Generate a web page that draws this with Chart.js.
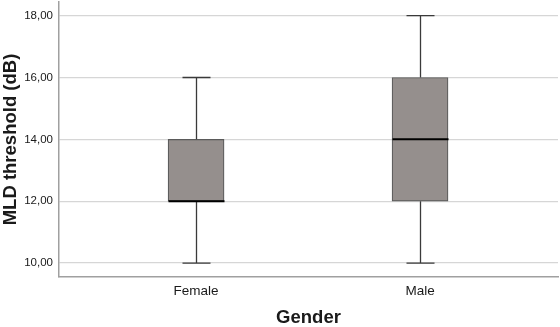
<!DOCTYPE html>
<html>
<head>
<meta charset="utf-8">
<script src="https://cdn.jsdelivr.net/npm/chart.js@4.4.1/dist/chart.umd.min.js"></script>
<style>
  html, body { margin: 0; padding: 0; background: #fff; }
  #wrap { width: 560px; height: 327px; }
</style>
</head>
<body>
<div id="wrap"><canvas id="chart" width="560" height="327"></canvas></div>
<script>
const groups = ['Female', 'Male'];
const groupPos = [1, 2];
const mins = [10, 10];
const q1s = [12, 12];
const medians = [12, 14];
const q3s = [14, 16];
const maxs = [16, 18];
const yTicks = [10, 12, 14, 16, 18];

const BOX_W = 56;
const CAP_W = 28;

// whiskers + medians, drawn from the scales
const whiskerPlugin = {
  id: 'whiskers',
  afterDatasetsDraw(chart) {
    const { ctx, scales: { x, y } } = chart;
    ctx.save();
    groupPos.forEach((pos, i) => {
      const cx = Math.round(x.getPixelForValue(pos)) + 0.5;
      ctx.strokeStyle = '#3a3a3a';
      ctx.lineWidth = 1.3;
      ctx.beginPath();
      ctx.moveTo(cx, y.getPixelForValue(q3s[i]));
      ctx.lineTo(cx, y.getPixelForValue(maxs[i]));
      ctx.moveTo(cx, y.getPixelForValue(q1s[i]));
      ctx.lineTo(cx, y.getPixelForValue(mins[i]));
      ctx.moveTo(cx - CAP_W / 2, y.getPixelForValue(maxs[i]));
      ctx.lineTo(cx + CAP_W / 2, y.getPixelForValue(maxs[i]));
      ctx.moveTo(cx - CAP_W / 2, y.getPixelForValue(mins[i]));
      ctx.lineTo(cx + CAP_W / 2, y.getPixelForValue(mins[i]));
      ctx.stroke();

      ctx.strokeStyle = '#000';
      ctx.lineWidth = 2;
      ctx.beginPath();
      const my = y.getPixelForValue(medians[i]);
      ctx.moveTo(cx - BOX_W / 2, my);
      ctx.lineTo(cx + BOX_W / 2, my);
      ctx.stroke();
    });
    ctx.restore();
  }
};

new Chart(document.getElementById('chart'), {
  type: 'bar',
  data: {
    datasets: [{
      data: groupPos.map((p, i) => ({ x: p, y: [q1s[i], q3s[i]] })),
      backgroundColor: '#958f8d',
      borderColor: '#5a5a5a',
      borderWidth: 1.2,
      borderSkipped: false,
      barThickness: BOX_W
    }]
  },
  options: {
    responsive: false,
    animation: false,
    layout: { padding: { top: 2, right: 2, left: 0, bottom: 0 } },
    plugins: { legend: { display: false }, tooltip: { enabled: false } },
    scales: {
      x: {
        type: 'linear',
        offset: false,
        min: 0.388,
        max: 2.616,
        afterBuildTicks: axis => { axis.ticks = groupPos.map(v => ({ value: v })); },
        afterFit: axis => { axis.height = 50; axis.paddingLeft = 0; axis.paddingRight = 0; },
        grid: { display: false, drawTicks: false },
        border: { display: true, color: '#a0a0a0', width: 1.5 },
        ticks: {
          padding: 6,
          color: '#1a1a1a',
          font: { family: 'Liberation Sans, Arial', size: 13.5 },
          callback: v => groups[groupPos.indexOf(v)] || ''
        },
        title: {
          display: true,
          text: 'Gender',
          color: '#1a1a1a',
          font: { family: 'Liberation Sans, Arial', size: 18.5, weight: 'bold', lineHeight: 1 },
          padding: { top: 0, bottom: 0 }
        }
      },
      y: {
        min: 9.55,
        max: 18.44,
        afterBuildTicks: axis => { axis.ticks = yTicks.map(v => ({ value: v })); },
        afterFit: axis => { axis.width = 59; axis.paddingTop = 0; axis.paddingBottom = 0; },
        grid: { color: '#d6d6d6', lineWidth: 1.2, drawTicks: false },
        border: { display: true, color: '#a0a0a0', width: 1.5 },
        ticks: {
          padding: 6,
          color: '#1a1a1a',
          font: { family: 'Liberation Sans, Arial', size: 11.5 },
          callback: v => v.toFixed(2).replace('.', ',')
        },
        title: {
          display: true,
          text: 'MLD threshold (dB)',
          color: '#1a1a1a',
          font: { family: 'Liberation Sans, Arial', size: 18.5, weight: 'bold', lineHeight: 1.2 },
          padding: { top: 0, bottom: 0 }
        }
      }
    }
  },
  plugins: [whiskerPlugin]
});
</script>
</body>
</html>
